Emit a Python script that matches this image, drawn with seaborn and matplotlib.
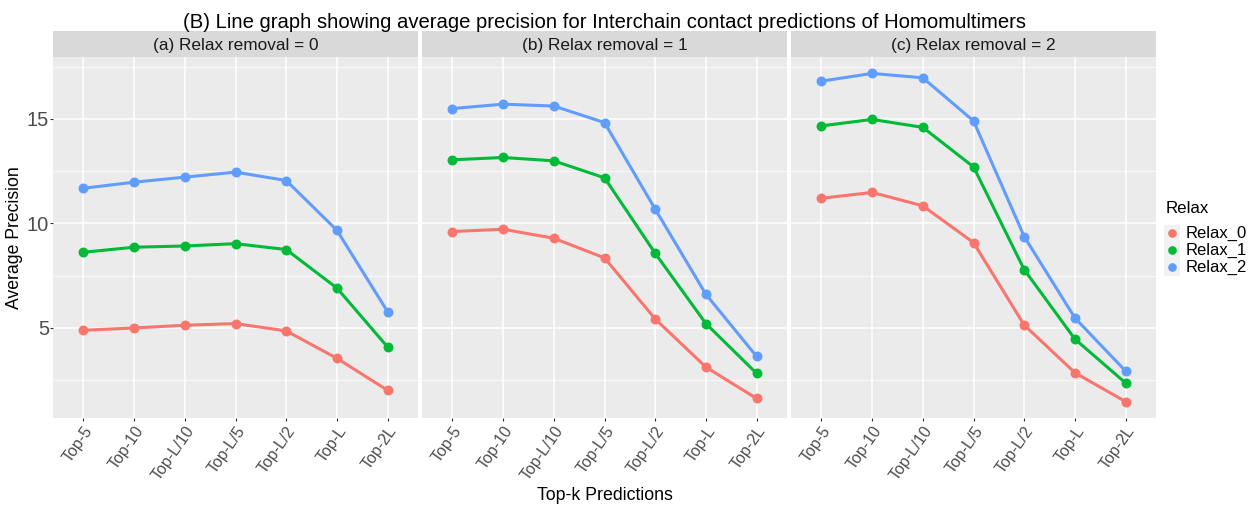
import numpy as np
import pandas as pd
import matplotlib
matplotlib.use("Agg")
import matplotlib.pyplot as plt
from matplotlib.lines import Line2D
from matplotlib.patches import Rectangle
import seaborn as sns

# ---- data -------------------------------------------------------------
categories = ["Top-5", "Top-10", "Top-L/10", "Top-L/5", "Top-L/2", "Top-L", "Top-2L"]
facet_titles = ["(a) Relax removal = 0", "(b) Relax removal = 1", "(c) Relax removal = 2"]
series = ["Relax_0", "Relax_1", "Relax_2"]

# (a) Relax removal = 0
a_relax0 = [4.89, 5.00, 5.13, 5.21, 4.86, 3.55, 2.02]
a_relax1 = [8.62, 8.86, 8.92, 9.03, 8.75, 6.91, 4.09]
a_relax2 = [11.68, 11.97, 12.21, 12.45, 12.05, 9.67, 5.78]
# (b) Relax removal = 1
b_relax0 = [9.61, 9.72, 9.29, 8.35, 5.43, 3.13, 1.63]
b_relax1 = [13.04, 13.15, 12.99, 12.18, 8.57, 5.21, 2.83]
b_relax2 = [15.49, 15.70, 15.61, 14.82, 10.68, 6.61, 3.64]
# (c) Relax removal = 2
c_relax0 = [11.20, 11.48, 10.84, 9.08, 5.14, 2.86, 1.48]
c_relax1 = [14.66, 14.97, 14.59, 12.70, 7.79, 4.47, 2.37]
c_relax2 = [16.80, 17.17, 16.96, 14.90, 9.37, 5.48, 2.94]

y_ticks = [5, 10, 15]
y_minor = [2.5, 7.5, 12.5, 17.5]

panels = [
    (facet_titles[0], [a_relax0, a_relax1, a_relax2]),
    (facet_titles[1], [b_relax0, b_relax1, b_relax2]),
    (facet_titles[2], [c_relax0, c_relax1, c_relax2]),
]

rows = []
for title, vals in panels:
    for name, v in zip(series, vals):
        for cat, p in zip(categories, v):
            rows.append({"facet": title, "k": cat, "Relax": name, "precision": p})
df = pd.DataFrame(rows)

palette = {"Relax_0": "#F8766D", "Relax_1": "#00BA38", "Relax_2": "#619CFF"}

# ---- style ------------------------------------------------------------
sns.set_theme(style="white")
plt.rcParams["font.family"] = ["Liberation Sans", "DejaVu Sans"]

W, H = 1252, 505
fig = plt.figure(figsize=(W / 100, H / 100), dpi=100)
fig.patch.set_facecolor("white")


def fx(px):
    return px / W


def fy(py):
    return 1 - py / H


# y range with 5% padding on both sides
ymin, ymax = df["precision"].min(), df["precision"].max()
pad = 0.05 * (ymax - ymin)
ylim = (ymin - pad, ymax + pad)

panel_left = [53, 422, 791]
panel_w = 365
panel_top, panel_bot = 57, 418
strip_top = 31

axes = []
for i, (title, _) in enumerate(panels):
    ax = fig.add_axes([fx(panel_left[i]), fy(panel_bot), fx(panel_w),
                       (panel_bot - panel_top) / H])
    ax.set_facecolor("#EBEBEB")
    sub = df[df["facet"] == title]
    sns.pointplot(data=sub, x="k", y="precision", hue="Relax", order=categories,
                  hue_order=series, palette=palette, markers="o", errorbar=None,
                  markersize=5.5, linewidth=2.2, legend=False, ax=ax)
    ax.set_xlim(-0.6, len(categories) - 0.4)
    ax.set_ylim(*ylim)
    ax.set_yticks(y_ticks)
    ax.set_yticks(y_minor, minor=True)
    ax.grid(which="major", color="white", linewidth=1.1)
    ax.grid(which="minor", axis="y", color="white", linewidth=0.5)
    ax.set_axisbelow(True)
    for s in ax.spines.values():
        s.set_visible(False)
    ax.tick_params(which="major", length=2.3, width=0.8, color="#333333",
                   bottom=True, left=(i == 0), pad=1.5)
    ax.tick_params(which="minor", length=0)
    ax.set_xticks(range(len(categories)))
    ax.set_xticklabels(categories, rotation=55, ha="right", va="top",
                       rotation_mode="anchor", fontsize=11.5, color="#4D4D4D")
    if i == 0:
        ax.tick_params(axis="y", pad=0.6)
        ax.set_yticklabels([str(t) for t in y_ticks], fontsize=14.5, color="#4D4D4D")
    else:
        ax.set_yticklabels([])
    ax.set_xlabel("")
    ax.set_ylabel("")

    # facet strip
    sax = fig.add_axes([fx(panel_left[i]), fy(panel_top), fx(panel_w),
                        (panel_top - strip_top) / H])
    sax.set_facecolor("#D9D9D9")
    sax.set_xticks([])
    sax.set_yticks([])
    for s in sax.spines.values():
        s.set_visible(False)
    sax.text(0.5, 0.45, title, ha="center", va="center", fontsize=12.4,
             color="#1A1A1A", transform=sax.transAxes)
    axes.append(ax)

center_x = fx((panel_left[0] + panel_left[2] + panel_w) / 2)
fig.text(center_x, fy(28),
         "(B) Line graph showing average precision for Interchain contact predictions of Homomultimers",
         ha="center", va="baseline", fontsize=14.6, color="black")
fig.text(center_x, fy(495), "Top-k Predictions", ha="center", va="center",
         fontsize=12.8, color="black")
fig.text(fx(15), fy((panel_top + panel_bot) / 2), "Average Precision",
         ha="center", va="center", rotation=90, fontsize=12.7, color="black")

# legend, laid out in pixel positions
fig.text(fx(1166), fy(209), "Relax", ha="left", va="center", fontsize=12.2,
         color="black")
fig.add_artist(Rectangle((fx(1164), fy(276)), fx(16), (276 - 225) / H,
                         transform=fig.transFigure, facecolor="#F2F2F2",
                         edgecolor="none"))
for j, name in enumerate(series):
    yy = 233 + 17 * j
    fig.add_artist(Line2D([fx(1172)], [fy(yy)], transform=fig.transFigure,
                          linestyle="none", marker="o", markersize=5.2,
                          color=palette[name]))
    fig.text(fx(1186), fy(yy), name, ha="left", va="center", fontsize=12,
             color="black")

fig.savefig("out.png", dpi=100, facecolor="white")
